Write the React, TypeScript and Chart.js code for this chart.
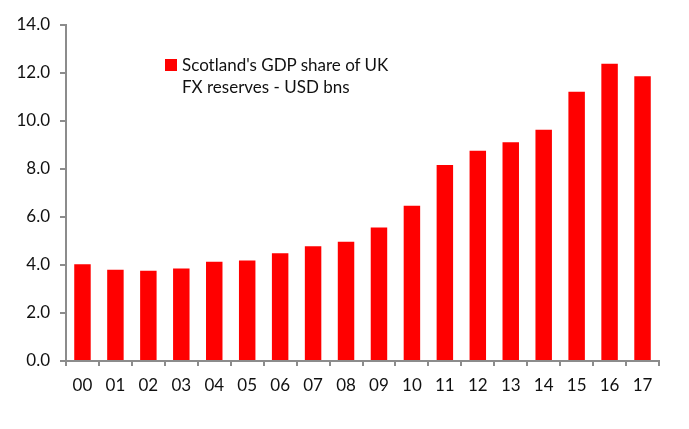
import React, { useEffect, useRef } from "react";
import Chart from "chart.js/auto";

const years = ["00", "01", "02", "03", "04", "05", "06", "07", "08", "09", "10", "11", "12", "13", "14", "15", "16", "17"];
const fxReserves = [4.03, 3.8, 3.76, 3.85, 4.14, 4.19, 4.49, 4.78, 4.97, 5.56, 6.47, 8.17, 8.76, 9.11, 9.64, 11.22, 12.39, 11.86];
const yTicks = [0, 2, 4, 6, 8, 10, 12, 14];
const legendLines = ["Scotland's GDP share of UK", "FX reserves - USD bns"];

const FONT = "Lato, 'Open Sans', sans-serif";
const RED = "#ff0000";
const AXIS = "#8c8c8c";

export default function App() {
  const canvasRef = useRef<HTMLCanvasElement | null>(null);
  const chartRef = useRef<Chart | null>(null);

  useEffect(() => {
    document.body.style.margin = "0";
    if (!canvasRef.current) return;
    const ctx = canvasRef.current.getContext("2d");
    if (!ctx) return;

    chartRef.current = new Chart(ctx, {
      type: "bar",
      data: {
        labels: years,
        datasets: [
          {
            label: legendLines.join(" "),
            data: fxReserves,
            backgroundColor: RED,
            borderWidth: 0,
            barPercentage: 0.5,
            categoryPercentage: 1,
          },
        ],
      },
      options: {
        animation: false,
        responsive: true,
        maintainAspectRatio: false,
        layout: { padding: { top: 25, right: 30, left: 0, bottom: 0 } },
        plugins: {
          legend: { display: false },
          tooltip: { enabled: false },
        },
        scales: {
          x: {
            offset: true,
            border: { display: true, color: AXIS, width: 2 },
            grid: {
              display: true,
              offset: true,
              drawOnChartArea: false,
              drawTicks: true,
              tickLength: 5,
              color: AXIS,
              lineWidth: 2,
            },
            ticks: {
              color: "#111",
              font: { family: FONT, size: 17 },
              padding: 9,
              maxRotation: 0,
            },
            afterFit: (scale: any) => {
              scale.height = 68;
            },
          },
          y: {
            min: 0,
            max: 14,
            border: { display: true, color: AXIS, width: 2 },
            grid: {
              display: true,
              drawOnChartArea: false,
              drawTicks: true,
              tickLength: 6,
              color: AXIS,
              lineWidth: 2,
            },
            afterBuildTicks: (scale: any) => {
              scale.ticks = yTicks.map((v) => ({ value: v }));
            },
            ticks: {
              color: "#111",
              font: { family: FONT, size: 17 },
              padding: 10,
              callback: (v: any) => Number(v).toFixed(1),
            },
            afterFit: (scale: any) => {
              scale.width = 66;
            },
          },
        },
      },
    });

    return () => {
      if (chartRef.current) {
        chartRef.current.destroy();
        chartRef.current = null;
      }
    };
  }, []);

  return (
    <div style={{ position: "relative", width: 689, height: 429, background: "#fff" }}>
      <canvas ref={canvasRef} />
      <div
        style={{
          position: "absolute",
          left: 165,
          top: 54,
          fontFamily: FONT,
          fontSize: 17,
          lineHeight: "22px",
          color: "#111",
        }}
      >
        <div style={{ display: "flex", alignItems: "center" }}>
          <span style={{ display: "inline-block", width: 12, height: 12, background: RED, marginRight: 5 }} />
          <span>{legendLines[0]}</span>
        </div>
        <div style={{ paddingLeft: 17 }}>{legendLines[1]}</div>
      </div>
    </div>
  );
}
